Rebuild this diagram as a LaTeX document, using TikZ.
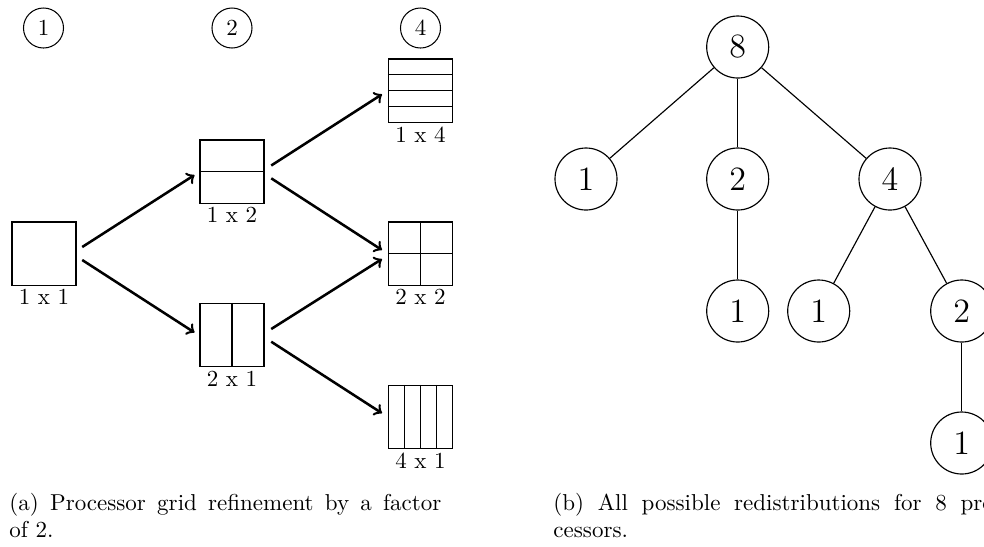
\documentclass[tikz,border=0pt]{standalone}
\usepackage{fontspec}
\usetikzlibrary{calc}
\begin{document}
\begin{tikzpicture}[x=0.43478pt,y=-0.43478pt,
  gridbox/.style={draw, line width=0.45pt, minimum width=27.83pt, minimum height=27.4pt, inner sep=0pt},
  divline/.style={line width=0.45pt},
  lab/.style={anchor=north, inner sep=1.5pt},
  arr/.style={->, line width=1.1pt},
  smallc/.style={circle, draw, line width=0.45pt, minimum size=17.4pt, inner sep=0pt},
  tn/.style={circle, draw, line width=0.5pt, minimum size=26.96pt, inner sep=0pt, font=\fontsize{14.8}{18}\selectfont},
  tedge/.style={line width=0.5pt},
  captext/.style={anchor=base west, inner sep=0pt}
]
\useasboundingbox (0,0) rectangle (984,546);
\clip (0,0) rectangle (984,546);

% column headers
\node[smallc] (h1) at (43.5,28) {1};
\node[smallc] (h2) at (232,28) {2};
\node[smallc] (h4) at (420.5,28) {4};

% grid boxes
\node[gridbox] (b11) at (44,253.5) {};
\node[gridbox] (b12) at (232,171.5) {};
\node[gridbox] (b21) at (232,335) {};
\node[gridbox] (b14) at (420.5,90.5) {};
\node[gridbox] (b22) at (420.5,253.5) {};
\node[gridbox] (b41) at (420.5,417) {};

% subdivisions
\draw[divline] (b12.west) -- (b12.east);
\draw[divline] (b21.north) -- (b21.south);
\foreach \f in {0.25,0.5,0.75}{
  \draw[divline] ($(b14.north west)!\f!(b14.south west)$) -- ($(b14.north east)!\f!(b14.south east)$);
  \draw[divline] ($(b41.north west)!\f!(b41.north east)$) -- ($(b41.south west)!\f!(b41.south east)$);
}
\draw[divline] (b22.west) -- (b22.east);
\draw[divline] (b22.north) -- (b22.south);

% labels
\node[lab] (l11) at (b11.south) {1 x 1};
\node[lab] (l12) at (b12.south) {1 x 2};
\node[lab] (l21) at (b21.south) {2 x 1};
\node[lab] (l14) at (b14.south) {1 x 4};
\node[lab] (l22) at (b22.south) {2 x 2};
\node[lab] (l41) at (b41.south) {4 x 1};

% arrows
\draw[arr] ($(b11.east)+(5.7,-6.5)$) -- ($(b12.west)+(-5,3.5)$);
\draw[arr] ($(b11.east)+(5.7,6.5)$) -- ($(b21.west)+(-5,-2.5)$);
\draw[arr] ($(b12.east)+(6.7,-6)$) -- ($(b14.west)+(-6,3.8)$);
\draw[arr] ($(b12.east)+(6.7,6.8)$) -- ($(b22.west)+(-6,-3.5)$);
\draw[arr] ($(b21.east)+(6.7,-6)$) -- ($(b22.west)+(-6,5.5)$);
\draw[arr] ($(b21.east)+(6.7,6.7)$) -- ($(b41.west)+(-6,-3.8)$);

% tree
\node[tn] (t8)  at (737.7,47) {8};
\node[tn] (t1a) at (586,179) {1};
\node[tn] (t2)  at (737.7,179) {2};
\node[tn] (t4)  at (890,179) {4};
\node[tn] (t1b) at (737.7,311) {1};
\node[tn] (t1c) at (818.7,311) {1};
\node[tn] (t2b) at (961.7,311) {2};
\node[tn] (t1d) at (961.7,443) {1};
\draw[tedge] (t8) -- (t1a);
\draw[tedge] (t8) -- (t2);
\draw[tedge] (t8) -- (t4);
\draw[tedge] (t2) -- (t1b);
\draw[tedge] (t4) -- (t1c);
\draw[tedge] (t4) -- (t2b);
\draw[tedge] (t2b) -- (t1d);

% captions
\node[captext] (ca1) at (9,510) {\makebox[187.8pt][s]{(a) Processor grid refinement by a factor}};
\node[captext] (ca2) at (9,537.5) {of 2.};
\node[captext] (cb1) at (553,510) {\makebox[194.8pt][s]{(b) All possible redistributions for 8 pro-}};
\node[captext] (cb2) at (553,537.5) {cessors.};
\end{tikzpicture}
\end{document}
